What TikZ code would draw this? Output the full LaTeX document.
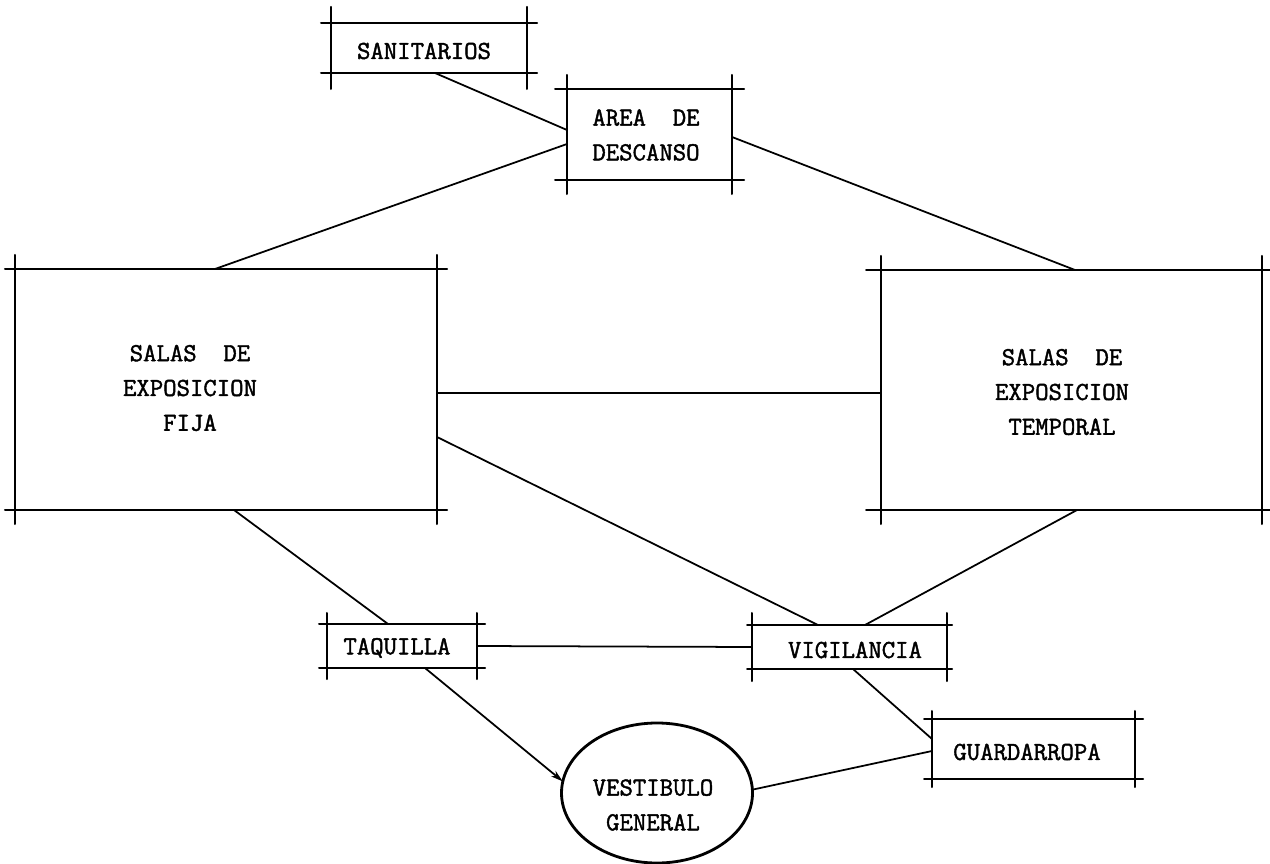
\documentclass[tikz,border=0pt]{standalone}
\usepackage{fontspec}
\newfontfamily\twfont[FakeBold=1.6]{Latin Modern Mono}
\usetikzlibrary{calc,shapes.geometric,arrows.meta}
\newcommand\xbox[3]{%
  \draw[boxline] ($(#1.north west)+(-#2,0)$) -- ($(#1.north east)+(#2,0)$);
  \draw[boxline] ($(#1.south west)+(-#2,0)$) -- ($(#1.south east)+(#2,0)$);
  \draw[boxline] ($(#1.north west)+(0,-#3)$) -- ($(#1.south west)+(0,#3)$);
  \draw[boxline] ($(#1.north east)+(0,-#3)$) -- ($(#1.south east)+(0,#3)$);}
\begin{document}
\begin{tikzpicture}[x=0.02cm,y=-0.02cm,
  bx/.style 2 args={rectangle,draw=none,inner sep=0pt,outer sep=0pt,
    minimum width=#1*0.02cm,minimum height=#2*0.02cm},
  boxline/.style={line width=1.15pt,line cap=round},
  conn/.style={line width=1pt},
  txt/.style={font=\fontsize{14.8pt}{19.8pt}\selectfont\twfont,align=center,inner sep=0pt}]
\useasboundingbox[fill=white] (0,0) rectangle (1270,864);

% boxes
\node[bx={196}{50}]  (san)   at (429,48) {};
\node[bx={165}{91}]  (area)  at (649.5,134.5) {};
\node[bx={422}{241}] (fija)  at (226,389.5) {};
\node[bx={381}{240}] (temp)  at (1071.5,390) {};
\node[bx={150}{44}]  (taq)   at (402,646) {};
\node[bx={195}{44}]  (vig)   at (849.5,647) {};
\node[bx={203}{60}]  (guard) at (1033.5,749) {};
\node[ellipse,draw,line width=1.6pt,inner sep=0pt,outer sep=0pt,
      minimum width=191*0.02cm,minimum height=140*0.02cm] (vest) at (657,793) {};

\xbox{san}{10}{16}
\xbox{area}{12}{14}
\xbox{fija}{10}{14}
\xbox{temp}{15}{14}
\xbox{taq}{8}{11}
\xbox{vig}{5}{12}
\xbox{guard}{8}{8}

% texts
\node[txt] (santxt)   at (424,51)   {SANITARIOS};
\node[txt] (areatxt)  at (646,135)  {AREA~~DE\\DESCANSO};
\node[txt] (fijatxt)  at (190,388)  {SALAS~~DE\\EXPOSICION\\FIJA};
\node[txt] (temptxt)  at (1062,392) {SALAS~~DE\\EXPOSICION\\TEMPORAL};
\node[txt] (taqtxt)   at (397,648)  {TAQUILLA};
\node[txt] (vigtxt)   at (855,650)  {VIGILANCIA};
\node[txt] (guardtxt) at (1027,752) {GUARDARROPA};
\node[txt] (vesttxt)  at (653,805)  {VESTIBULO\\GENERAL};

% connectors
\draw[conn] ($(san.south west)+(104,0)$) -- ($(area.north west)+(0,41)$);
\draw[conn] ($(area.north west)+(0,55)$) -- ($(fija.north west)+(200,0)$);
\draw[conn] ($(area.north east)+(0,48)$) -- ($(temp.north west)+(194,0)$);
\draw[conn] ($(fija.north east)+(0,124)$) -- ($(temp.north west)+(0,123)$);
\draw[conn] ($(fija.north east)+(0,168)$) -- ($(vig.north west)+(66,0)$);
\draw[conn] ($(temp.south west)+(196,0)$) -- ($(vig.north west)+(113,0)$);
\draw[conn] ($(fija.south west)+(219,0)$) -- ($(taq.north west)+(61,0)$);
\draw[conn] (taq.east) -- (vig.west);
\draw[conn,-{Stealth[length=7pt,width=4pt]}] ($(taq.south west)+(98,0)$) -- (vest.173);
\draw[conn] ($(vig.south west)+(101,0)$) -- ($(guard.north west)+(0,20)$);
\draw[conn] (vest.2) -- ($(guard.north west)+(0,32)$);
\end{tikzpicture}
\end{document}
